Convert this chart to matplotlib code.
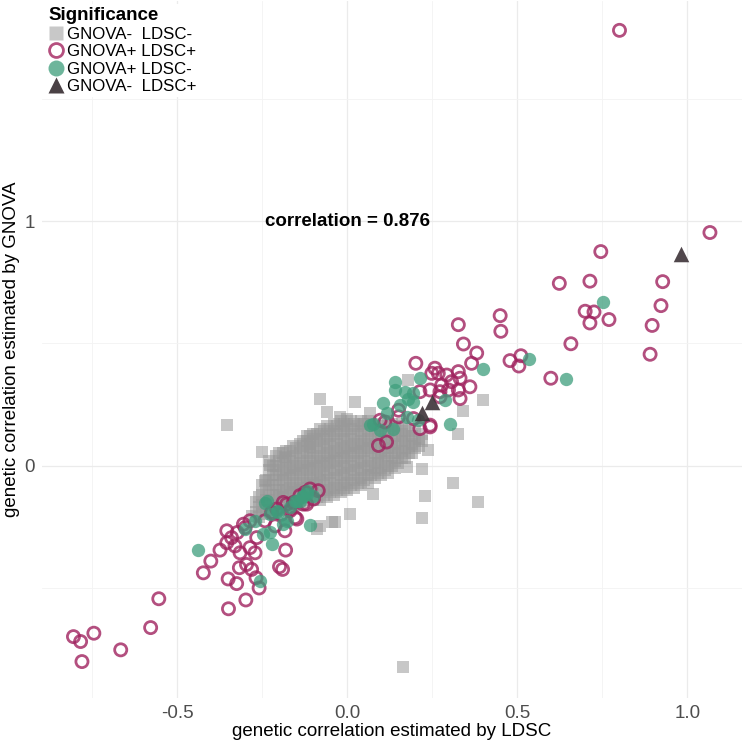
import matplotlib
matplotlib.use("Agg")
import matplotlib.pyplot as plt
from matplotlib.lines import Line2D

plt.rcParams['font.family'] = ['Liberation Sans', 'DejaVu Sans']

# ---------------- data ----------------
# GNOVA+ LDSC+ (open magenta circles)
both_x = [-0.806, -0.785, -0.746, -0.781, -0.667, -0.579, -0.555,
          -0.350, -0.299, -0.260, -0.351, -0.326, -0.424, -0.402, -0.375, -0.182,
          -0.200, -0.191, -0.318, -0.297, -0.282, -0.269, -0.355, -0.341, -0.324,
          -0.301, -0.331, -0.316, -0.287, -0.272, -0.267, -0.243, -0.213, -0.194,
          -0.169, -0.149, -0.120, -0.100, -0.086, -0.110, -0.179, -0.306, -0.287,
          -0.355, -0.125, -0.159, -0.140, -0.130, -0.189, -0.208, -0.154, -0.184,
          -0.223,
          0.091, 0.115, 0.110, 0.150, 0.194, 0.213, 0.243, 0.096, 0.150, 0.272,
          0.326, 0.449, 0.451, 0.341, 0.380, 0.365, 0.201, 0.257, 0.248, 0.267,
          0.292, 0.326, 0.331, 0.306, 0.277, 0.297, 0.326, 0.360, 0.331, 0.272,
          0.243, 0.213, 0.243,
          0.623, 0.713, 0.699, 0.725, 0.713, 0.769, 0.657, 0.478, 0.510, 0.504,
          0.598,
          1.066, 0.745, 0.927, 0.922, 0.896, 0.890, 0.800]
both_y = [-0.700, -0.720, -0.686, -0.802, -0.754, -0.663, -0.545,
          -0.586, -0.550, -0.501, -0.464, -0.483, -0.439, -0.391, -0.346, -0.346,
          -0.414, -0.425, -0.418, -0.405, -0.425, -0.459, -0.316, -0.295, -0.274,
          -0.254, -0.329, -0.357, -0.336, -0.357, -0.295, -0.226, -0.247, -0.199,
          -0.185, -0.219, -0.158, -0.137, -0.103, -0.096, -0.158, -0.240, -0.226,
          -0.267, -0.110, -0.151, -0.123, -0.158, -0.151, -0.178, -0.213, -0.267,
          -0.192,
          0.082, 0.096, 0.178, 0.226, 0.192, 0.151, 0.158, 0.185, 0.199, 0.302,
          0.576, 0.613, 0.549, 0.497, 0.460, 0.418, 0.418, 0.398, 0.377, 0.377,
          0.370, 0.384, 0.357, 0.343, 0.329, 0.309, 0.309, 0.322, 0.274, 0.281,
          0.309, 0.302, 0.165,
          0.745, 0.754, 0.631, 0.628, 0.583, 0.597, 0.498, 0.429, 0.449, 0.407,
          0.357,
          0.953, 0.875, 0.752, 0.654, 0.573, 0.455, 1.780]

# GNOVA+ LDSC- (filled teal circles)
gnova_x = [-0.439, -0.257, -0.243, -0.223, -0.248, -0.272, -0.301, -0.110,
           -0.208, -0.179, -0.169, -0.149, -0.135, -0.120, -0.189, -0.228,
           -0.140, -0.100, -0.238, -0.203, -0.154, -0.130, -0.120, -0.228,
           0.105, 0.115, 0.076, 0.096, 0.135, 0.154, 0.179, 0.174, 0.140, 0.194,
           0.208, 0.398, 0.213, 0.140, 0.169, 0.301, 0.287, 0.066, 0.194,
           0.752, 0.534, 0.642]
gnova_y = [-0.346, -0.473, -0.154, -0.320, -0.281, -0.226, -0.261, -0.243,
           -0.185, -0.226, -0.171, -0.144, -0.130, -0.117, -0.240, -0.199,
           -0.144, -0.123, -0.144, -0.192, -0.144, -0.123, -0.103, -0.274,
           0.254, 0.213, 0.171, 0.144, 0.151, 0.247, 0.274, 0.199, 0.309, 0.295,
           0.185, 0.394, 0.357, 0.343, 0.302, 0.171, 0.267, 0.165, 0.261,
           0.668, 0.435, 0.353]

# GNOVA- LDSC+ (dark triangles)
ldsc_x = [0.220, 0.248, 0.981]
ldsc_y = [0.213, 0.261, 0.867]

# GNOVA- LDSC- (grey squares): scattered points
none_x = [-0.081, -0.059, 0.022, -0.022, -0.250, -0.228, -0.243, -0.184, -0.110,
          0.238, 0.220, 0.228, 0.218, -0.037, 0.007, 0.076, 0.174, -0.081, 0.066,
          0.047, -0.353, 0.398, 0.339, 0.326, 0.311, 0.385, -0.091, 0.179,
          -0.282, -0.046, 0.163]
none_y = [0.274, 0.219, 0.261, 0.199, 0.055, 0.004, -0.062, 0.034, 0.075,
          0.062, -0.014, -0.123, -0.213, -0.233, -0.199, -0.117, -0.007, -0.247, 0.213,
          0.171, 0.165, 0.267, 0.224, 0.130, -0.071, -0.151, -0.261, 0.350,
          -0.206, -0.233, -0.823]

# grey squares in the dense central cloud, read column by column
cloud_cols = [-0.27, -0.26, -0.25, -0.24, -0.23, -0.22, -0.21, -0.20, -0.19,
              -0.18, -0.17, -0.16, -0.15, -0.14, -0.13, -0.12, -0.11, -0.10,
              -0.09, -0.08, -0.07, -0.06, -0.05, -0.04, -0.03, -0.02, -0.01,
              0.00, 0.01, 0.02, 0.03, 0.04, 0.05, 0.06, 0.07, 0.08, 0.09, 0.10,
              0.11, 0.12, 0.13, 0.14, 0.15, 0.16, 0.17, 0.18, 0.19, 0.20, 0.21,
              0.22]
cloud_vals = [
    [-0.19, -0.15],
    [-0.21, -0.17, -0.13],
    [-0.20, -0.16, -0.12, -0.08],
    [-0.18, -0.14, -0.10, -0.06],
    [-0.18, -0.14, -0.10, -0.06, -0.02, 0.02],
    [-0.20, -0.16, -0.12, -0.08, -0.04, 0.00],
    [-0.19, -0.15, -0.12, -0.08, -0.04, 0.00, 0.04],
    [-0.17, -0.13, -0.10, -0.06, -0.02, 0.02, 0.05],
    [-0.17, -0.13, -0.10, -0.06, -0.03, 0.01, 0.05],
    [-0.18, -0.15, -0.11, -0.08, -0.04, -0.01, 0.03, 0.06],
    [-0.16, -0.12, -0.09, -0.05, -0.02, 0.02, 0.06],
    [-0.17, -0.14, -0.10, -0.07, -0.03, 0.00, 0.04, 0.08],
    [-0.15, -0.11, -0.08, -0.04, -0.01, 0.03, 0.07],
    [-0.16, -0.13, -0.09, -0.06, -0.02, 0.01, 0.05, 0.09],
    [-0.14, -0.10, -0.07, -0.03, 0.00, 0.04, 0.08, 0.10],
    [-0.15, -0.12, -0.08, -0.05, -0.01, 0.02, 0.06, 0.10, 0.12],
    [-0.13, -0.09, -0.06, -0.02, 0.01, 0.05, 0.09, 0.12],
    [-0.14, -0.11, -0.07, -0.04, 0.00, 0.03, 0.07, 0.11, 0.13],
    [-0.13, -0.08, -0.05, -0.01, 0.02, 0.06, 0.10, 0.13],
    [-0.14, -0.10, -0.06, -0.03, 0.01, 0.04, 0.08, 0.12, 0.15],
    [-0.12, -0.08, -0.04, 0.00, 0.03, 0.07, 0.11, 0.14],
    [-0.13, -0.10, -0.06, -0.02, 0.02, 0.05, 0.09, 0.13, 0.16],
    [-0.11, -0.07, -0.03, 0.01, 0.04, 0.08, 0.12, 0.15],
    [-0.12, -0.09, -0.05, -0.01, 0.03, 0.06, 0.10, 0.14, 0.17],
    [-0.10, -0.06, -0.02, 0.02, 0.05, 0.09, 0.13, 0.16],
    [-0.11, -0.08, -0.04, 0.00, 0.04, 0.07, 0.11, 0.15, 0.18],
    [-0.09, -0.05, -0.01, 0.03, 0.06, 0.10, 0.14, 0.17],
    [-0.10, -0.07, -0.03, 0.01, 0.05, 0.08, 0.12, 0.16, 0.19],
    [-0.08, -0.04, 0.00, 0.04, 0.07, 0.11, 0.15, 0.18],
    [-0.09, -0.06, -0.02, 0.02, 0.06, 0.09, 0.13, 0.17],
    [-0.07, -0.03, 0.01, 0.05, 0.08, 0.12, 0.16],
    [-0.08, -0.05, -0.01, 0.03, 0.07, 0.10, 0.14, 0.18],
    [-0.06, -0.02, 0.02, 0.06, 0.09, 0.13, 0.17],
    [-0.07, -0.04, 0.00, 0.04, 0.08, 0.11, 0.15, 0.18],
    [-0.04, -0.01, 0.03, 0.07, 0.10, 0.14, 0.17],
    [-0.05, -0.02, 0.01, 0.05, 0.09, 0.12, 0.16],
    [-0.03, 0.01, 0.04, 0.08, 0.11, 0.15],
    [-0.04, -0.01, 0.03, 0.06, 0.10, 0.13, 0.17],
    [-0.02, 0.02, 0.05, 0.09, 0.12, 0.16],
    [-0.03, 0.00, 0.04, 0.07, 0.11, 0.14, 0.18],
    [0.00, 0.03, 0.07, 0.10, 0.14, 0.17],
    [-0.01, 0.02, 0.05, 0.09, 0.12, 0.16],
    [0.01, 0.05, 0.08, 0.12, 0.15],
    [0.03, 0.06, 0.10, 0.13, 0.17],
    [0.03, 0.07, 0.10, 0.14],
    [0.05, 0.08, 0.12, 0.15],
    [0.05, 0.09, 0.12],
    [0.07, 0.10, 0.14],
    [0.08, 0.11],
    [0.10, 0.13],
]

labels = ["GNOVA-  LDSC-", "GNOVA+ LDSC+", "GNOVA+ LDSC-", "GNOVA-  LDSC+"]
x_ticks = [-0.5, 0.0, 0.5, 1.0]
x_ticklabels = ["-0.5", "0.0", "0.5", "1.0"]
y_ticks = [0, 1]
y_ticklabels = ["0", "1"]
corr_text = "correlation = 0.876"

# ---------------- figure ----------------
W, H = 744, 741
fig = plt.figure(figsize=(W / 100, H / 100), dpi=100)
ax = fig.add_axes([41.5 / W, (H - 698) / H, (742 - 41.5) / W, (698 - 1) / H])

cloud_x = []
cloud_y = []
for cx, ys in zip(cloud_cols, cloud_vals):
    for yv in ys:
        cloud_x.append(cx)
        cloud_y.append(yv)

grey = '#999999'
mag = '#A0235F'
teal = '#3E9E7C'
dark = '#3D3338'

ax.scatter(cloud_x + none_x, cloud_y + none_y, marker='s', s=78, c=grey,
           alpha=0.55, linewidths=0, zorder=2)
ax.scatter(both_x, both_y, marker='o', s=76, facecolors='none', edgecolors=mag,
           linewidths=2.0, alpha=0.8, zorder=3)
ax.scatter(gnova_x, gnova_y, marker='o', s=92, c=teal, alpha=0.75,
           linewidths=0, zorder=4)
ax.scatter(ldsc_x, ldsc_y, marker='^', s=125, c=dark, alpha=0.9,
           linewidths=0, zorder=5)

ax.set_xlim(-0.9, 1.1603)
ax.set_ylim(-0.951, 1.90)
ax.set_xticks(x_ticks)
ax.set_xticklabels(x_ticklabels)
ax.set_yticks(y_ticks)
ax.set_yticklabels(y_ticklabels)
ax.set_xticks([-0.75, -0.25, 0.25, 0.75], minor=True)
ax.set_yticks([-0.5, 0.5, 1.5], minor=True)
ax.grid(which='major', color='#EBEBEB', linewidth=0.9, zorder=0)
ax.grid(which='minor', color='#F3F3F3', linewidth=0.6, zorder=0)
ax.set_axisbelow(True)
for sp in ax.spines.values():
    sp.set_visible(False)
ax.tick_params(which='both', length=0)
ax.tick_params(axis='x', pad=5, labelsize=13.5, labelcolor='#4D4D4D')
ax.tick_params(axis='y', pad=5, labelsize=13.5, labelcolor='#4D4D4D')

ax.set_xlabel("genetic correlation estimated by LDSC", fontsize=13.5, labelpad=1)
ax.set_ylabel("genetic correlation estimated by GNOVA", fontsize=13.5, labelpad=3)

ax.text(0.0, 1.0, corr_text, ha='center', va='center', fontsize=13.5,
        fontweight='bold', zorder=6)

handles = [
    Line2D([], [], ls='none', marker='s', ms=10.5, mfc='#C8C8C8', mec='none'),
    Line2D([], [], ls='none', marker='o', ms=10, mfc='none', mec='#B5507F', mew=2.0),
    Line2D([], [], ls='none', marker='o', ms=11.5, mfc='#6DB59B', mec='none'),
    Line2D([], [], ls='none', marker='^', ms=11.5, mfc='#4A4145', mec='none'),
]
leg = ax.legend(handles, labels, title="Significance", loc='upper left',
                bbox_to_anchor=(45 / W, 1 - 4 / H), bbox_transform=fig.transFigure,
                frameon=True, fancybox=False, framealpha=1, edgecolor='none',
                facecolor='white', fontsize=12.2, handlelength=0.9,
                handletextpad=0.2, labelspacing=0.14, borderpad=0.2,
                borderaxespad=0, alignment='left',
                title_fontproperties={'weight': 'bold', 'size': 13.5})
leg.set_zorder(10)

fig.savefig("out.png", dpi=100)
